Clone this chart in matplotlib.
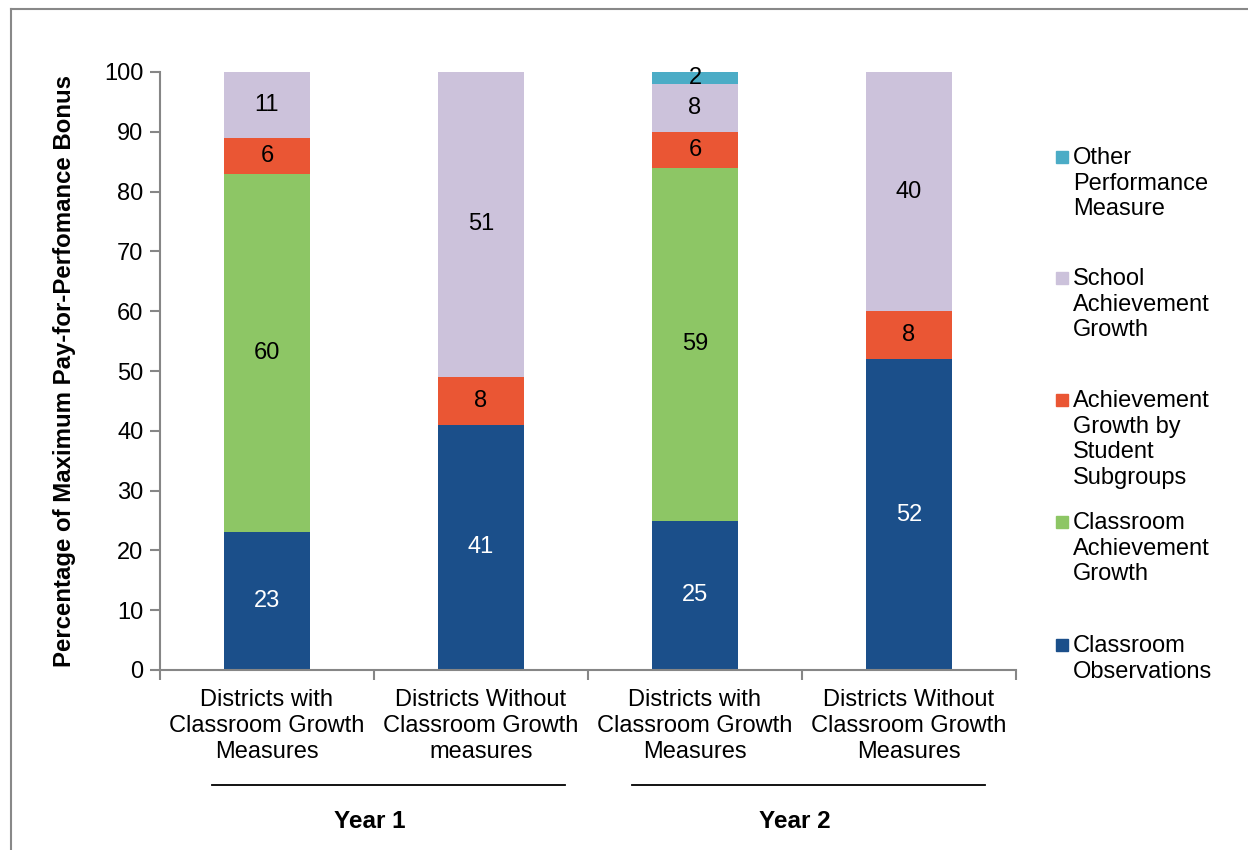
import matplotlib.pyplot as plt
from matplotlib.lines import Line2D
from matplotlib.patches import Rectangle
import numpy as np

plt.rcParams['font.family'] = ['Liberation Sans', 'DejaVu Sans']

categories = ['Districts with\nClassroom Growth\nMeasures',
              'Districts Without\nClassroom Growth\nmeasures',
              'Districts with\nClassroom Growth\nMeasures',
              'Districts Without\nClassroom Growth\nMeasures']
years = ['Year 1', 'Year 2']

observations = [23, 41, 25, 52]
classroom_growth = [60, 0, 59, 0]
subgroup_growth = [6, 8, 6, 8]
school_growth = [11, 51, 8, 40]
other_measure = [0, 0, 2, 0]

series = [
    ('Classroom\nObservations', observations, '#1B4F8A', 'white'),
    ('Classroom\nAchievement\nGrowth', classroom_growth, '#8DC665', 'black'),
    ('Achievement\nGrowth by\nStudent\nSubgroups', subgroup_growth, '#EA5634', 'black'),
    ('School\nAchievement\nGrowth', school_growth, '#CCC2DB', 'black'),
    ('Other\nPerformance\nMeasure', other_measure, '#4BACC6', 'black'),
]

W, H = 1248, 850
fig = plt.figure(figsize=(W / 100, H / 100), dpi=100)
ax = fig.add_axes([160 / W, 1 - 670 / H, 856 / W, 598 / H])

x = np.arange(len(categories))
bottom = np.zeros(len(categories))
for name, vals, color, tcol in series:
    vals = np.array(vals, dtype=float)
    bars = ax.bar(x, vals, width=0.4, bottom=bottom, color=color, label=name)
    labels = [f'{v:g}' if v > 0 else '' for v in vals]
    ax.bar_label(bars, labels=labels, label_type='center', color=tcol, fontsize=17)
    bottom += vals

ax.set_xlim(-0.5, 3.5)
ax.set_ylim(0, 100)
ax.set_yticks(np.arange(0, 101, 10))
ax.set_xticks(x)
ax.set_xticklabels(categories, fontsize=17, linespacing=1.22)
ax.set_xticks(np.arange(-0.5, 4, 1), minor=True)
ax.tick_params(axis='x', which='major', length=0, pad=14)
ax.tick_params(axis='x', which='minor', length=7, color='#868686', width=1.5)
ax.tick_params(axis='y', length=7, color='#868686', width=1.5, labelsize=17, pad=5)
for side in ('top', 'right'):
    ax.spines[side].set_visible(False)
for side in ('left', 'bottom'):
    ax.spines[side].set_color('#868686')
    ax.spines[side].set_linewidth(1.5)

ax.set_ylabel('Percentage of Maximum Pay-for-Perfomance Bonus',
              fontsize=17.3, fontweight='bold', labelpad=20)

# year group brackets under the category labels
bracket_px = [(212, 565), (632, 985)]
year_px = [370, 795]
for yr, (x0, x1), xc in zip(years, bracket_px, year_px):
    fig.add_artist(Line2D([x0 / W, x1 / W], [1 - 785 / H] * 2, color='black', lw=1.3))
    fig.text(xc / W, 1 - 821 / H, yr, ha='center', va='center',
             fontsize=17.5, fontweight='bold')

# legend entries, top to bottom
legend_rows = [157, 278, 400, 522, 645]
for (name, vals, color, tcol), ty in zip(series[::-1], legend_rows):
    fig.add_artist(Rectangle((1056 / W, 1 - (ty + 6) / H), 12 / W, 12 / H,
                             color=color, transform=fig.transFigure))
    fig.text(1073 / W, 1 - (ty - 10) / H, name, ha='left', va='top',
             fontsize=17, linespacing=1.22)

# outer frame (top and left edges)
fig.add_artist(Line2D([11 / W, 1], [1 - 9 / H] * 2, color='#888888', lw=1.5))
fig.add_artist(Line2D([11 / W] * 2, [0, 1 - 9 / H], color='#888888', lw=1.5))

fig.savefig('out.png', dpi=100)
